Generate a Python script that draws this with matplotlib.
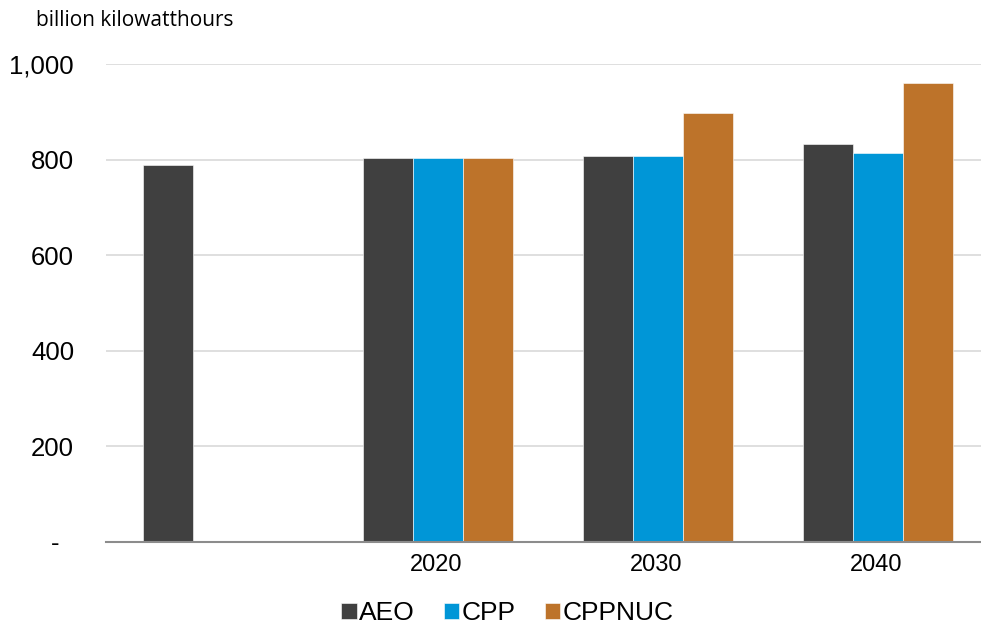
import numpy as np
import matplotlib
matplotlib.use("Agg")
import matplotlib.pyplot as plt
from matplotlib.ticker import FuncFormatter

# Nuclear generation by case, billion kWh
years = ["", "2020", "2030", "2040"]
aeo = [790, 804, 809, 834]
cpp = [np.nan, 804, 808, 815]
cppnuc = [np.nan, 804, 899, 962]

series = [("AEO", aeo, "#404040"),
          ("CPP", cpp, "#0096d7"),
          ("CPPNUC", cppnuc, "#bd732a")]

plt.rcParams["font.family"] = ["Liberation Sans", "DejaVu Sans"]

fig = plt.figure(figsize=(9.81, 6.27), dpi=100)
ax = fig.add_axes([0.108, 0.1356, 0.897, 0.7616])

x = np.arange(len(years))
w = 0.227
for i, (name, vals, col) in enumerate(series):
    ax.bar(x + (i - 1) * w + 0.01, vals, width=w, color=col, label=name,
           edgecolor="white", linewidth=0.4, zorder=3)

ax.set_xlim(-0.5, 3.5)
ax.set_ylim(0, 1000)
ax.set_yticks(range(0, 1001, 200))
# zero shown as an accounting-style dash
ax.yaxis.set_major_formatter(FuncFormatter(lambda v, p: "-  " if v == 0 else f"{int(v):,}"))
ax.set_xticks(x)
ax.set_xticklabels(years)

ax.grid(axis="y", color="#d9d9d9", linewidth=1.2, zorder=0)
ax.set_axisbelow(True)
for s in ["top", "right", "left"]:
    ax.spines[s].set_visible(False)
ax.spines["bottom"].set_color("#8c8c8c")
ax.spines["bottom"].set_linewidth(1.5)
ax.spines["bottom"].set_zorder(4)

ax.tick_params(axis="y", length=0, pad=23, labelsize=18.5)
ax.tick_params(axis="x", length=0, pad=9, labelsize=17)

fig.text(0.037, 0.968, "billion kilowatthours", fontsize=15,
         family=["Open Sans", "DejaVu Sans"], va="center")

fig.legend(loc="center", bbox_to_anchor=(0.517, 0.022), ncol=3, frameon=False,
           fontsize=19, handlelength=0.6, handleheight=0.6, handletextpad=0.08,
           columnspacing=1.1)

fig.savefig("out.png", dpi=100)
